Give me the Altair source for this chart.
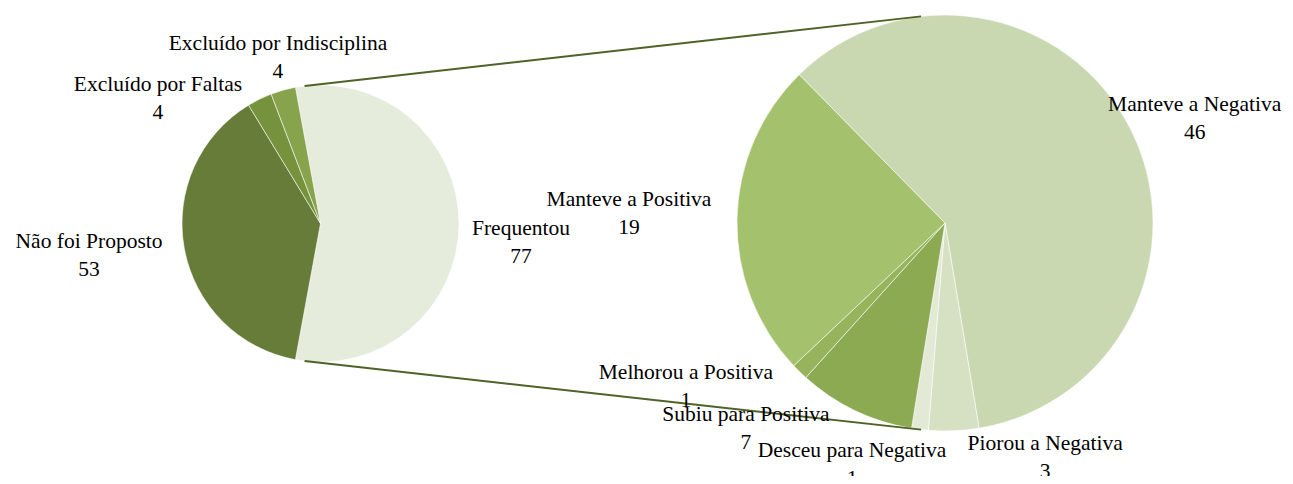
import math
import altair as alt
import pandas as pd

# ---- data ----
main_categories = ["Frequentou", "Não foi Proposto", "Excluído por Faltas", "Excluído por Indisciplina"]
main_values = [77, 53, 4, 4]
main_colors = ["#E5ECDB", "#667C38", "#77923D", "#87A34B"]

sub_categories = ["Manteve a Negativa", "Piorou a Negativa", "Desceu para Negativa",
                  "Subiu para Positiva", "Melhorou a Positiva", "Manteve a Positiva"]
sub_values = [46, 3, 1, 7, 1, 19]
sub_colors = ["#C9D8B1", "#D6E1C4", "#E2EAD6", "#8CAA52", "#97B45D", "#A4C16D"]

# ---- layout (pixels / degrees) ----
main_center = (312.5, 215.5)
main_radius = 138.5
main_start = -10.43
sub_center = (937.0, 215.0)
sub_radius = 208.0
sub_start = -44.5
connector_angles = [-6.6, 186.6]
# label placement: (distance from centre, angle nudge from slice middle)
main_label_layout = [(201.5, 5.8), (233.9, 2.2), (204.1, -26.7), (169.9, 1.15)]
sub_label_layout = [(270.0, 4.6), (256.3, -20.6), (260.2, 14.0), (287.1, 18.3), (307.1, 13.2), (316.1, 0.4)]
FONT = "Liberation Serif"
FONT_SIZE = 21.5
LINE_HEIGHT = 28
LINE_COLOR = "#4F6228"


def polar(center, r, deg):
    a = math.radians(deg)
    return center[0] + r * math.sin(a), center[1] - r * math.cos(a)


rows = []
labels = []
for pie, cats, vals, layout, center, start in [
    ("main", main_categories, main_values, main_label_layout, main_center, main_start),
    ("sub", sub_categories, sub_values, sub_label_layout, sub_center, sub_start),
]:
    total = sum(vals)
    acc = 0.0
    for i, (c, v) in enumerate(zip(cats, vals)):
        rows.append({"pie": pie, "cat": c, "value": v, "ord": i})
        mid = start + (acc + v / 2) / total * 360
        acc += v
        dist, nudge = layout[i]
        lx, ly = polar(center, dist, mid + nudge)
        labels.append({"txt": f"{c}\n{v}", "lx": lx, "ly": ly})

df = pd.DataFrame(rows)
lab_df = pd.DataFrame(labels)

conn = []
for ang in connector_angles:
    x1, y1 = polar(main_center, main_radius, ang)
    x2, y2 = polar(sub_center, sub_radius, ang)
    conn.append({"x": x1, "y": y1, "x2": x2, "y2": y2})
conn_df = pd.DataFrame(conn)

color_scale = alt.Scale(domain=main_categories + sub_categories, range=main_colors + sub_colors)


def pie_layer(pie, center, radius, start):
    a0 = math.radians(start)
    return (
        alt.Chart(df)
        .transform_filter(alt.datum.pie == pie)
        .mark_arc(outerRadius=radius, stroke="white", strokeWidth=0.7, strokeOpacity=0.8)
        .encode(
            x=alt.value(center[0]),
            y=alt.value(center[1]),
            theta=alt.Theta("value:Q", stack=True, scale=alt.Scale(range=[a0, a0 + 2 * math.pi])),
            order=alt.Order("ord:Q"),
            color=alt.Color("cat:N", scale=color_scale, legend=None),
        )
    )


main_pie = pie_layer("main", main_center, main_radius, main_start)
sub_pie = pie_layer("sub", sub_center, sub_radius, sub_start)

connectors = alt.Chart(conn_df).mark_rule(color=LINE_COLOR, strokeWidth=2).encode(
    x=alt.X("x:Q", scale=None, axis=None),
    y=alt.Y("y:Q", scale=None, axis=None),
    x2="x2:Q",
    y2="y2:Q",
)

text = alt.Chart(lab_df).mark_text(
    font=FONT, fontSize=FONT_SIZE, lineBreak="\n", lineHeight=LINE_HEIGHT,
    align="center", baseline="middle", color="black", dy=-LINE_HEIGHT / 2 - 1,
).encode(
    x=alt.X("lx:Q", scale=None, axis=None),
    y=alt.Y("ly:Q", scale=None, axis=None),
    text="txt:N",
)

chart = (
    alt.layer(main_pie, sub_pie, connectors, text)
    .resolve_scale(theta="independent")
    .properties(width=1277, height=468, padding=0, autosize=alt.AutoSizeParams(type="none"))
    .configure_view(stroke=None)
)

chart.save("out.html", embed_options={"renderer": "svg", "actions": False})
